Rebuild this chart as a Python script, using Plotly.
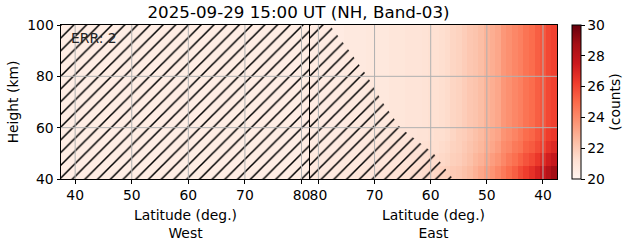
import plotly.graph_objects as go

# ---------------- data ----------------
lat_centers = [38, 39, 40, 41, 42, 43, 44, 45, 46, 47, 48, 49, 50, 51, 52, 53, 54, 55,
               56, 57, 58, 59, 60, 61, 62, 63, 64, 65, 66, 67, 68, 69, 70, 71, 72, 73,
               74, 75, 76, 77, 78, 79, 80, 81]
height_centers = [42.5, 47.5, 52.5, 57.5, 62.5, 67.5, 72.5, 77.5, 82.5, 87.5, 92.5, 97.5]

# West side (fully flagged / hatched), nearly uniform
west_profile = [20.5, 20.5, 20.5, 20.5, 20.5, 20.5, 20.5, 20.5, 20.5, 20.5, 20.5, 20.5,
                20.5, 20.5, 20.5, 20.5, 20.5, 20.5, 20.5, 20.5, 20.5, 20.5, 20.5, 20.5,
                20.5, 20.5, 20.5, 20.5, 20.5, 20.5, 20.5, 20.5, 20.5, 20.5, 20.5, 20.5,
                20.5, 20.5, 20.5, 20.5, 20.5, 20.5, 20.5, 20.5]

# East side counts, rows bottom (42.5 km) to top
east_row_425 = [28.8, 28.2, 27.6, 27.1, 26.6, 26.2, 25.8, 25.3, 24.9, 24.5, 24.1, 23.7,
                23.4, 23.1, 22.8, 22.5, 22.3, 22.1, 22.0, 21.8, 21.7, 21.6, 21.5, 21.4,
                21.3, 21.3, 21.2, 21.2, 21.1, 21.1, 21.0, 21.0, 21.0, 20.9, 20.9, 20.9,
                20.8, 20.8, 20.8, 20.7, 20.7, 20.7, 20.7, 20.7]
east_row_475 = [27.7, 27.3, 26.8, 26.4, 25.9, 25.6, 25.2, 24.8, 24.5, 24.1, 23.7, 23.4,
                23.1, 22.8, 22.6, 22.3, 22.1, 21.9, 21.8, 21.6, 21.5, 21.4, 21.4, 21.3,
                21.2, 21.2, 21.1, 21.1, 21.0, 21.0, 20.9, 20.9, 20.9, 20.9, 20.8, 20.8,
                20.8, 20.8, 20.7, 20.7, 20.7, 20.7, 20.7, 20.7]
east_row_525 = [26.9, 26.6, 26.1, 25.8, 25.4, 25.2, 24.7, 24.5, 24.1, 23.9, 23.4, 23.1,
                22.9, 22.6, 22.4, 22.2, 22.0, 21.8, 21.7, 21.5, 21.4, 21.3, 21.3, 21.2,
                21.1, 21.1, 21.1, 21.0, 21.0, 21.0, 20.9, 20.9, 20.9, 20.8, 20.8, 20.8,
                20.7, 20.7, 20.7, 20.6, 20.6, 20.6, 20.6, 20.6]
east_row_575 = [26.4, 26.2, 25.8, 25.5, 25.1, 24.9, 24.5, 24.2, 23.9, 23.7, 23.2, 23.0,
                22.8, 22.5, 22.3, 22.1, 21.9, 21.8, 21.6, 21.4, 21.3, 21.3, 21.2, 21.1,
                21.1, 21.0, 21.0, 21.0, 20.9, 20.9, 20.8, 20.8, 20.8, 20.8, 20.7, 20.7,
                20.7, 20.7, 20.6, 20.6, 20.6, 20.6, 20.6, 20.6]
east_row_upper = [26.1, 25.9, 25.5, 25.3, 24.9, 24.7, 24.3, 24.1, 23.8, 23.6, 23.1, 22.9,
                  22.7, 22.4, 22.2, 22.1, 21.9, 21.7, 21.6, 21.4, 21.3, 21.2, 21.2, 21.1,
                  21.0, 21.0, 21.0, 20.9, 20.9, 20.9, 20.8, 20.8, 20.8, 20.8, 20.7, 20.7,
                  20.7, 20.7, 20.6, 20.6, 20.6, 20.6, 20.6, 20.6]

# hatched (flagged) region boundary on East side
hatch_heights = [100, 90, 80, 70, 60, 50, 40]
hatch_lats = [78.0, 74.5, 71.3, 68.6, 65.4, 59.5, 56.0]

lat_min, lat_max = 37.5, 81.5
h_min, h_max = 40, 100
x_ticks = [40, 50, 60, 70, 80]
y_ticks = [40, 60, 80, 100]
cbar_ticks = [20, 22, 24, 26, 28, 30]
err_text = "ERR: 2"
title_text = "2025-09-29 15:00 UT (NH, Band-03)"

# ---------------- build ----------------
west_z = [west_profile for _ in height_centers]
east_z = [east_row_425, east_row_475, east_row_525, east_row_575] + \
         [east_row_upper for _ in height_centers[4:]]

reds = [[0.0, "#fff5f0"], [0.125, "#fee0d2"], [0.25, "#fcbba1"], [0.375, "#fc9272"],
        [0.5, "#fb6a4a"], [0.625, "#ef3b2c"], [0.75, "#cb181d"], [0.875, "#a50f15"],
        [1.0, "#67000d"]]

FONT = "DejaVu Sans"
W, H = 631, 243
L, R, T, B = 61, 74, 25, 64
plot_w = W - L - R
split = (310 - L) / plot_w
GRID = "#b0b0b0"

fig = go.Figure()
fig.add_trace(go.Heatmap(x=lat_centers, y=height_centers, z=west_z, coloraxis="coloraxis",
                         xaxis="x", yaxis="y", hoverinfo="skip"))
fig.add_trace(go.Heatmap(x=lat_centers, y=height_centers, z=east_z, coloraxis="coloraxis",
                         xaxis="x2", yaxis="y2", hoverinfo="skip"))

pattern = dict(shape="/", fgcolor="#000000", fgopacity=1, bgcolor="rgba(0,0,0,0)", size=9,
               solidity=0.17, fillmode="overlay")
# West: whole panel hatched
fig.add_trace(go.Scatter(x=[lat_min, lat_max, lat_max, lat_min, lat_min],
                         y=[h_min, h_min, h_max, h_max, h_min],
                         fill="toself", fillcolor="rgba(0,0,0,0)", fillpattern=pattern,
                         line=dict(width=0), mode="lines", xaxis="x", yaxis="y",
                         opacity=1, showlegend=False, hoverinfo="skip"))
# East: flagged triangle
fig.add_trace(go.Scatter(x=[lat_max] + hatch_lats + [lat_max],
                         y=[h_max] + hatch_heights + [h_min],
                         fill="toself", fillcolor="rgba(0,0,0,0)", fillpattern=pattern,
                         line=dict(width=0), mode="lines", xaxis="x2", yaxis="y2",
                         opacity=1, showlegend=False, hoverinfo="skip"))

# grid lines drawn above the image (as matplotlib does)
shapes = []
for xa, ya in (("x", "y"), ("x2", "y2")):
    for t in x_ticks:
        shapes.append(dict(type="line", xref=xa, yref=ya + " domain", x0=t, x1=t, y0=0, y1=1,
                           line=dict(color=GRID, width=1), layer="above"))
    for t in y_ticks[1:-1]:
        shapes.append(dict(type="line", xref=xa + " domain", yref=ya, x0=0, x1=1, y0=t, y1=t,
                           line=dict(color=GRID, width=1), layer="above"))

tickfont = dict(family=FONT, size=13.9, color="black")
common_x = dict(showline=True, linecolor="black", linewidth=1, mirror=True,
                ticks="outside", ticklen=3.5, tickcolor="black", tickwidth=1,
                tickvals=x_ticks, showgrid=False, automargin=False,
                layer="above traces", zeroline=False, tickfont=tickfont)

fig.update_layout(
    width=W, height=H,
    margin=dict(l=L, r=R, t=T, b=B, pad=0, autoexpand=False),
    paper_bgcolor="white", plot_bgcolor="white",
    showlegend=False,
    font=dict(family=FONT, size=13.9, color="black"),
    title=dict(text=title_text, x=298.5 / W, xref="container",
               xanchor="center", y=1 - 12 / H, yanchor="middle",
               font=dict(family=FONT, size=16.7, color="black")),
    xaxis=dict(domain=[0, split], range=[lat_min, lat_max], anchor="y",
               title=dict(text="Latitude (deg.)<br>West", standoff=8,
                          font=dict(family=FONT, size=13.9)), **common_x),
    xaxis2=dict(domain=[split, 1], range=[lat_max, lat_min], anchor="y2",
                title=dict(text="Latitude (deg.)<br>East", standoff=8,
                           font=dict(family=FONT, size=13.9)), **common_x),
    yaxis=dict(domain=[0, 1], range=[h_min, h_max], anchor="x",
               showline=True, linecolor="black", linewidth=1, mirror=True,
               ticks="outside", ticklen=3.5, tickcolor="black", tickvals=y_ticks,
               showgrid=False, layer="above traces", zeroline=False, automargin=False,
               tickfont=tickfont,
               title=dict(text="Height (km)", standoff=5, font=dict(family=FONT, size=13.9))),
    yaxis2=dict(domain=[0, 1], range=[h_min, h_max], anchor="x2", matches="y",
                showline=True, linecolor="black", linewidth=1, mirror=True,
                ticks="", showticklabels=False, tickvals=y_ticks, automargin=False,
                showgrid=False, layer="above traces", zeroline=False),
    coloraxis=dict(cmin=20, cmax=30, colorscale=reds,
                   colorbar=dict(x=1 + (572 - (W - R)) / plot_w, xanchor="left", xpad=0,
                                 y=0.5, yanchor="middle", len=1, lenmode="fraction", ypad=0,
                                 thickness=9, outlinewidth=1, outlinecolor="black",
                                 tickvals=cbar_ticks, ticks="outside", ticklen=3.5,
                                 tickcolor="black", tickfont=tickfont,
                                 title=dict(text="(counts)", side="right",
                                            font=dict(family=FONT, size=13.9)))),
    shapes=shapes,
    annotations=[dict(text=err_text, xref="paper", yref="paper",
                      x=(69 - L) / plot_w, y=1 - (13 / 154), xanchor="left",
                      yanchor="middle", showarrow=False,
                      font=dict(family=FONT, size=13.9, color="#222222"))],
)

fig.write_html("out.html")
